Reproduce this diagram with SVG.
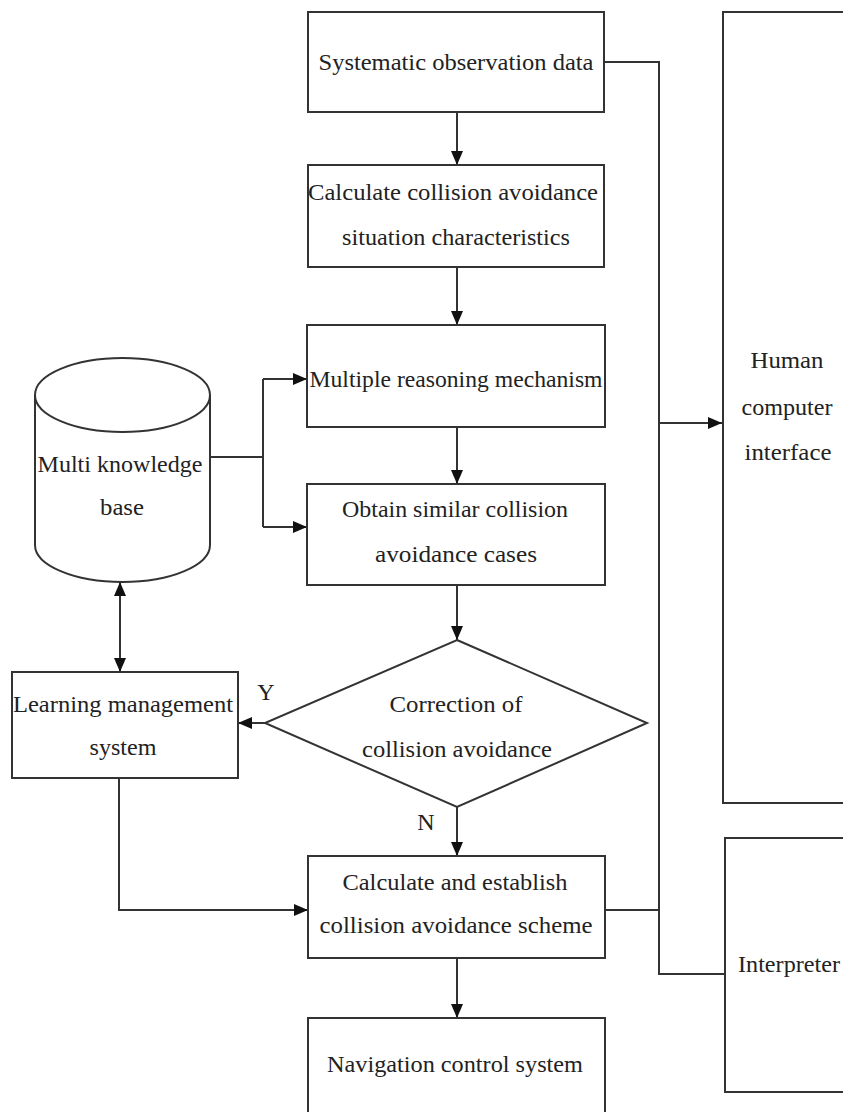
<svg xmlns="http://www.w3.org/2000/svg" width="843" height="1112" viewBox="0 0 843 1112">
<style>
.n{fill:#fff;stroke:#333;stroke-width:2}
.c{fill:none;stroke:#333;stroke-width:2}
.t{font-family:"Liberation Serif","Times New Roman",serif;font-size:24px;fill:#222;text-anchor:middle}
</style>
<defs>
<marker id="ah" viewBox="0 0 14 12" refX="14" refY="6" markerWidth="14" markerHeight="12" markerUnits="userSpaceOnUse" orient="auto-start-reverse">
<path d="M0,0 L14,6 L0,12 Z" fill="#111"/>
</marker>
</defs>
<rect width="843" height="1112" fill="#fff"/>
<g id="connectors">
<line class="c" x1="457" y1="112" x2="457" y2="165" marker-end="url(#ah)"/>
<line class="c" x1="457" y1="267" x2="457" y2="325" marker-end="url(#ah)"/>
<line class="c" x1="457" y1="427" x2="457" y2="484" marker-end="url(#ah)"/>
<line class="c" x1="457" y1="585" x2="457" y2="640" marker-end="url(#ah)"/>
<line class="c" x1="457" y1="807" x2="457" y2="856" marker-end="url(#ah)"/>
<line class="c" x1="457" y1="958" x2="457" y2="1018" marker-end="url(#ah)"/>
<polyline class="c" points="210,457 263,457"/>
<polyline class="c" points="263,379 263,527"/>
<line class="c" x1="263" y1="379" x2="307" y2="379" marker-end="url(#ah)"/>
<line class="c" x1="263" y1="527" x2="307" y2="527" marker-end="url(#ah)"/>
<line class="c" x1="120" y1="582" x2="120" y2="672" marker-start="url(#ah)" marker-end="url(#ah)"/>
<line class="c" x1="265" y1="723" x2="238" y2="723" marker-end="url(#ah)"/>
<polyline class="c" points="119,778 119,910 308,910" marker-end="url(#ah)"/>
<polyline class="c" points="604,62 659,62 659,974 725,974"/>
<line class="c" x1="605" y1="910" x2="659" y2="910"/>
<line class="c" x1="659" y1="423" x2="722" y2="423" marker-end="url(#ah)"/>
<text class="t" x="266" y="700" font-size="22">Y</text>
<text class="t" x="426" y="830" font-size="20">N</text>
</g>
<g id="n1">
<rect class="n" x="308" y="12" width="296" height="100"/>
<text class="t" x="456" y="70" textLength="275" lengthAdjust="spacingAndGlyphs">Systematic observation data</text>
</g>
<g id="n2">
<rect class="n" x="308" y="165" width="296" height="102"/>
<text class="t" x="453" y="200" textLength="290" lengthAdjust="spacingAndGlyphs">Calculate collision avoidance</text>
<text class="t" x="456" y="245" textLength="228" lengthAdjust="spacingAndGlyphs">situation characteristics</text>
</g>
<g id="n3">
<rect class="n" x="307" y="325" width="298" height="102"/>
<text class="t" x="456" y="387" textLength="293" lengthAdjust="spacingAndGlyphs">Multiple reasoning mechanism</text>
</g>
<g id="n4">
<rect class="n" x="307" y="484" width="298" height="101"/>
<text class="t" x="455" y="517" textLength="226" lengthAdjust="spacingAndGlyphs">Obtain similar collision</text>
<text class="t" x="456" y="562" textLength="162" lengthAdjust="spacingAndGlyphs">avoidance cases</text>
</g>
<g id="kb">
<path class="n" d="M35,395 L35,545 A87.5,37 0 0 0 210,545 L210,395"/>
<ellipse class="n" cx="122.5" cy="395" rx="87.5" ry="37"/>
<text class="t" x="120" y="472" textLength="165" lengthAdjust="spacingAndGlyphs">Multi knowledge</text>
<text class="t" x="122" y="515" textLength="44" lengthAdjust="spacingAndGlyphs">base</text>
</g>
<g id="lms">
<rect class="n" x="12" y="672" width="226" height="106"/>
<text class="t" x="123" y="712" textLength="220" lengthAdjust="spacingAndGlyphs">Learning management</text>
<text class="t" x="123" y="755" textLength="67" lengthAdjust="spacingAndGlyphs">system</text>
</g>
<g id="dec">
<polygon class="n" points="457,640 647,723 457,807 265,723"/>
<text class="t" x="456" y="712" textLength="133" lengthAdjust="spacingAndGlyphs">Correction of</text>
<text class="t" x="457" y="757" textLength="190" lengthAdjust="spacingAndGlyphs">collision avoidance</text>
</g>
<g id="n5">
<rect class="n" x="308" y="856" width="297" height="102"/>
<text class="t" x="455" y="890" textLength="225" lengthAdjust="spacingAndGlyphs">Calculate and establish</text>
<text class="t" x="456" y="933" textLength="273" lengthAdjust="spacingAndGlyphs">collision avoidance scheme</text>
</g>
<g id="n6">
<rect class="n" x="308" y="1018" width="297" height="110"/>
<text class="t" x="455" y="1072" textLength="256" lengthAdjust="spacingAndGlyphs">Navigation control system</text>
</g>
<g id="hci">
<rect class="n" x="723" y="12" width="140" height="791"/>
<text class="t" x="787" y="368" textLength="73" lengthAdjust="spacingAndGlyphs">Human</text>
<text class="t" x="787" y="415" textLength="91" lengthAdjust="spacingAndGlyphs">computer</text>
<text class="t" x="788" y="460" textLength="87" lengthAdjust="spacingAndGlyphs">interface</text>
</g>
<g id="interp">
<rect class="n" x="725" y="838" width="140" height="254"/>
<text class="t" x="789" y="972" textLength="102" lengthAdjust="spacingAndGlyphs">Interpreter</text>
</g>
</svg>
